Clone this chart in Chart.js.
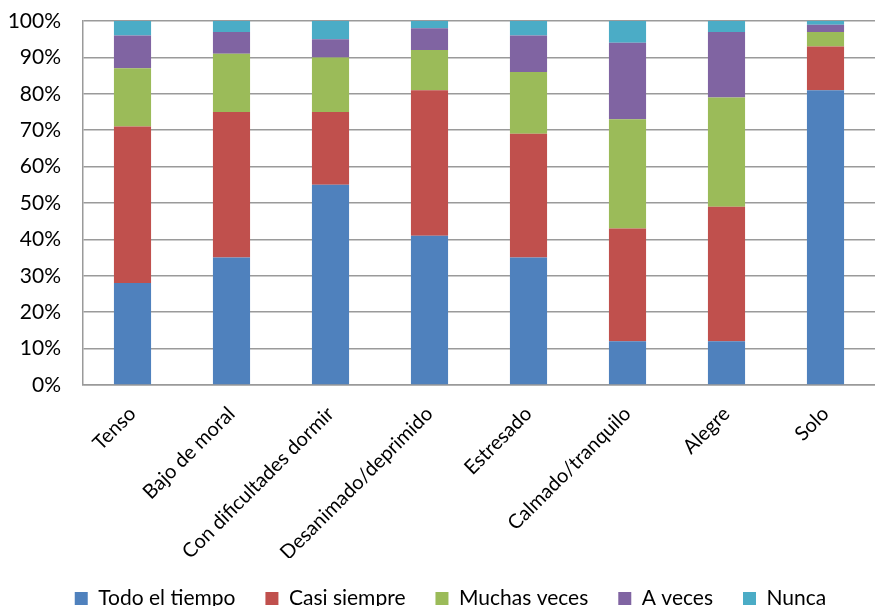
<!DOCTYPE html>
<html>
<head>
<meta charset="utf-8">
<script src="https://cdn.jsdelivr.net/npm/chart.js@4"></script>
<style>
  html, body { margin: 0; padding: 0; background: #fff; overflow: hidden; }
  #wrap { width: 875px; height: 619px; }
</style>
</head>
<body>
<div id="wrap"><canvas id="myChart"></canvas></div>
<script>
// Categories along the x axis
const categorias = ['Tenso', 'Bajo de moral', 'Con dificultades dormir', 'Desanimado/deprimido',
  'Estresado', 'Calmado/tranquilo', 'Alegre', 'Solo'];

// Percentage of answers per category for each frequency
const todoElTiempo = [28, 35, 55, 41, 35, 12, 12, 81];
const casiSiempre  = [43, 40, 20, 40, 34, 31, 37, 12];
const muchasVeces  = [16, 16, 15, 11, 17, 30, 30, 4];
const aVeces       = [9, 6, 5, 6, 10, 21, 18, 2];
const nunca        = [4, 3, 5, 2, 4, 6, 3, 1];

const familia = 'Lato, "Open Sans", sans-serif';
const fuenteY = { family: familia, size: 21 };
const fuenteX = { family: familia, size: 20 };
const fuenteLeyenda = { family: familia, size: 21 };

const data = {
  labels: categorias,
  datasets: [
    { label: 'Todo el tiempo', data: todoElTiempo, backgroundColor: '#4F81BD' },
    { label: 'Casi siempre',   data: casiSiempre,  backgroundColor: '#C0504D' },
    { label: 'Muchas veces',   data: muchasVeces,  backgroundColor: '#9BBB59' },
    { label: 'A veces',        data: aVeces,       backgroundColor: '#8064A2' },
    { label: 'Nunca',          data: nunca,        backgroundColor: '#4BACC6' }
  ]
};

// nudge the legend a little to the right of the canvas centre
const desplazarLeyenda = {
  id: 'desplazarLeyenda',
  afterLayout(chart) {
    chart.legend.left += 13;
    chart.legend.right += 13;
  }
};

const config = {
  type: 'bar',
  data: data,
  plugins: [desplazarLeyenda],
  options: {
    responsive: true,
    maintainAspectRatio: false,
    animation: false,
    datasets: {
      bar: { categoryPercentage: 1.0, barPercentage: 0.375 }
    },
    layout: { padding: { top: 21, left: 0, right: 0, bottom: 0 } },
    plugins: {
      tooltip: { enabled: false },
      legend: {
        position: 'bottom',
        labels: {
          color: '#000',
          font: fuenteLeyenda,
          boxWidth: 13,
          boxHeight: 13,
          padding: 30
        }
      }
    },
    scales: {
      x: {
        stacked: true,
        grid: { display: false, drawTicks: false },
        border: { color: '#9a9a9a', width: 1.5 },
        ticks: {
          color: '#000',
          font: fuenteX,
          minRotation: 45,
          maxRotation: 45,
          padding: 17
        },
        // tall enough so the rotated labels are not clipped
        afterFit: (scale) => { scale.height = 173; }
      },
      y: {
        stacked: true,
        min: 0,
        max: 100,
        grid: { color: '#9a9a9a', lineWidth: 1.5, drawTicks: false },
        border: { color: '#9a9a9a', width: 1.5 },
        ticks: {
          stepSize: 10,
          color: '#000',
          font: fuenteY,
          padding: 22,
          callback: (v) => v + '%'
        },
        afterFit: (scale) => {
          scale.width = 83;
          scale.paddingTop = 0;
          scale.paddingBottom = 0;
        }
      }
    }
  }
};

const ctx = document.getElementById('myChart').getContext('2d');
const myChart = new Chart(ctx, config);
</script>
</body>
</html>
